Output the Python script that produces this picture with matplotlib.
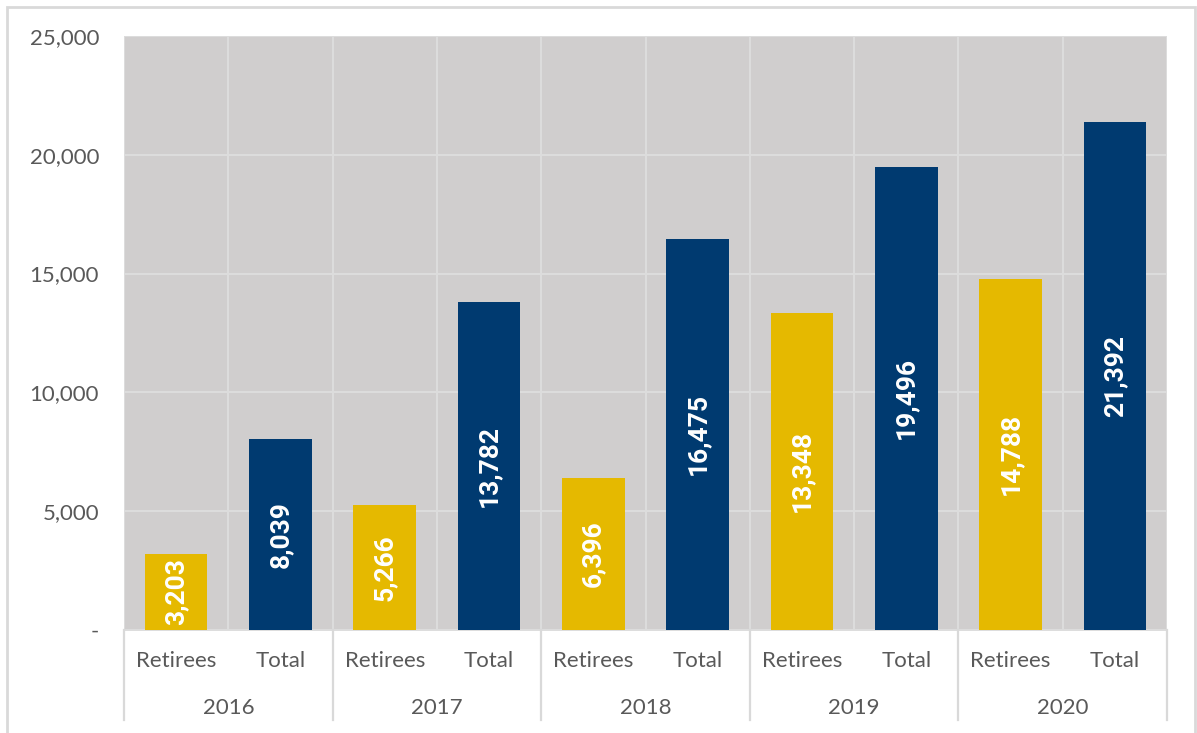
import matplotlib.pyplot as plt
from matplotlib.patches import Rectangle
from matplotlib.ticker import FuncFormatter

# data
years = ['2016', '2017', '2018', '2019', '2020']
series = ['Retirees', 'Total']
retirees = [3203, 5266, 6396, 13348, 14788]
totals = [8039, 13782, 16475, 19496, 21392]

gold = '#E5B900'
navy = '#003A70'
bg = '#D0CECE'
grid_col = '#DDDDDD'
text_col = '#595959'

fig = plt.figure(figsize=(11.97, 7.33), dpi=100)
ax = fig.add_axes([0.1036, 0.1405, 0.8714, 0.8105])
ax.set_facecolor(bg)

# outer frame round the whole chart
fig.patches.append(Rectangle((0.006, -0.01), 0.992, 1.0, transform=fig.transFigure,
                             fill=False, edgecolor='#D9D9D9', linewidth=2))

values = []
colors = []
for r, t in zip(retirees, totals):
    values += [r, t]
    colors += [gold, navy]
xs = list(range(len(values)))

bars = ax.bar(xs, values, width=0.6, color=colors, zorder=3)

for b, v in zip(bars, values):
    ax.text(b.get_x() + b.get_width() / 2, v / 2, f'{v:,}', rotation=90,
            ha='center', va='center', color='white', fontsize=19, fontweight='bold',
            family='Roboto', zorder=4)

ax.set_xlim(-0.5, len(values) - 0.5)
ax.set_ylim(0, 25000)
ax.set_yticks(range(0, 25001, 5000))
ax.yaxis.set_major_formatter(FuncFormatter(lambda v, p: '-' if v == 0 else f'{int(v):,}'))
ax.set_xticks([i - 0.5 for i in range(len(values) + 1)], minor=False)
ax.set_xticklabels([])
ax.grid(True, color=grid_col, linewidth=1.4, zorder=1)
ax.tick_params(axis='both', length=0)
ax.tick_params(axis='y', pad=18, labelsize=16, labelcolor=text_col)
for lab in ax.get_yticklabels():
    lab.set_family('Lato')
for s in ax.spines.values():
    s.set_visible(False)
ax.axhline(0, color=grid_col, linewidth=1.4, zorder=2, clip_on=False)

# two-level category axis
tr = ax.get_xaxis_transform()
for i, x in enumerate(xs):
    ax.text(x, -0.052, series[i % 2], transform=tr, ha='center', va='center',
            fontsize=16, color=text_col, family='Lato')
for j, y in enumerate(years):
    ax.text(2 * j + 0.5, -0.132, y, transform=tr, ha='center', va='center',
            fontsize=16, color=text_col, family='Lato')
for j in range(len(years) + 1):
    ax.plot([2 * j - 0.5, 2 * j - 0.5], [0, -0.152], transform=tr, color='#D9D9D9',
            linewidth=1.6, clip_on=False)

fig.savefig('out.png', dpi=100)
